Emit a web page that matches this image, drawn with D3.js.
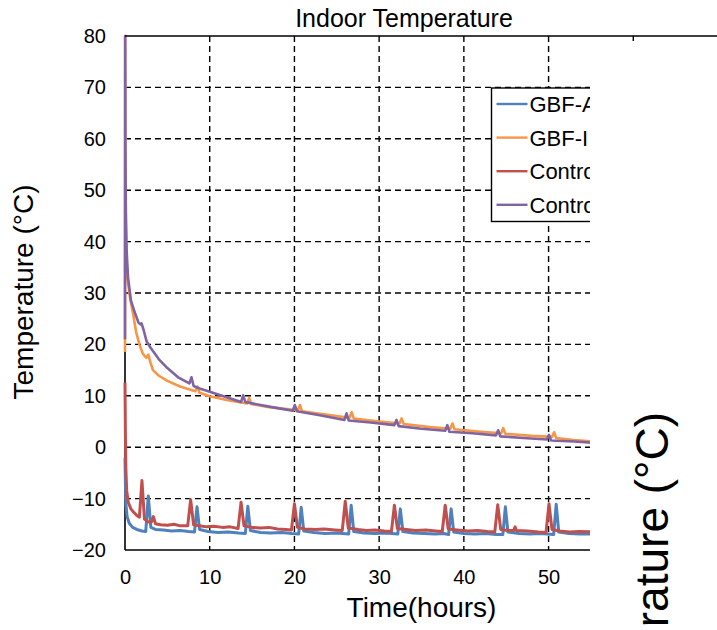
<!DOCTYPE html>
<html>
<head>
<meta charset="utf-8">
<script src="https://cdn.jsdelivr.net/npm/d3@7"></script>
<style>
  body { margin: 0; background: #fff; }
  svg { display: block; font-family: "Liberation Sans", Arial, sans-serif; }
</style>
</head>
<body>
<svg id="chart" width="717" height="630"></svg>
<script>
// series: [hours, degC]
const seriesNames = ["GBF-A", "GBF-I", "Control-A", "Control-I"];
const seriesColors = ["#4F81BD", "#F79646", "#C0504D", "#8064A2"];

const gbfA = [[0,-2],[0.05,-7],[0.1,-11],[0.25,-13.5],[0.5,-14.8],[0.9,-15.6],[1.4,-16.0],[2.0,-16.3],[2.45,-16.4],[2.75,-9.5],[3.05,-15.6],[3.6,-16],[4.5,-16.1],[5.5,-16.3],[6.5,-16.2],[7.5,-16.4],[8.2,-16.5],[8.5,-11.6],[8.8,-16],[9.8,-16.4],[11,-16.6],[12.2,-16.5],[13.4,-16.7],[14.2,-16.8],[14.5,-11.5],[14.8,-16.2],[16,-16.6],[17.2,-16.7],[18.5,-16.6],[19.7,-16.8],[20.5,-16.9],[20.8,-11.7],[21.1,-16.3],[22.3,-16.6],[23.6,-16.8],[25,-16.7],[26.4,-16.9],[26.7,-11.3],[27,-16.4],[28.2,-16.7],[29.5,-16.8],[30.8,-16.7],[32.2,-16.9],[32.5,-12],[32.8,-16.4],[34,-16.7],[35.3,-16.8],[36.6,-16.9],[37.6,-16.8],[38.2,-17],[38.5,-12],[38.8,-16.5],[40,-16.8],[41.3,-16.9],[42.6,-16.8],[43.8,-17],[44.6,-17],[44.9,-11.6],[45.2,-16.5],[46.5,-16.8],[47.8,-16.9],[49,-16.8],[50.6,-17],[50.9,-11.1],[51.2,-16.5],[52.4,-16.8],[53.7,-16.9],[56,-16.9]];

const gbfI = [[0,18.5],[0.02,80],[0.05,50],[0.1,40],[0.2,35],[0.36,32],[0.6,29],[0.95,26],[1.3,22.5],[1.7,20],[2.1,18.2],[2.5,17.4],[2.75,18],[3.0,16.5],[3.3,15],[4,13.9],[5,12.9],[6.5,11.8],[8.3,10.9],[8.55,11.8],[8.8,10.6],[10,9.9],[12,9.2],[14.4,8.5],[14.65,9.6],[14.9,8.4],[17,7.8],[20.4,7.2],[20.65,8.2],[20.9,7.0],[23,6.5],[26.5,5.7],[26.75,6.8],[27,5.6],[30,5.0],[32.4,4.6],[32.65,5.6],[32.9,4.5],[36,3.9],[38.4,3.6],[38.65,4.6],[38.9,3.5],[42,3.0],[44.4,2.7],[44.65,3.7],[44.9,2.6],[48,2.2],[50.4,2.0],[50.65,2.9],[50.9,1.8],[53,1.4],[56,1.0]];

const controlA = [[0,12.6],[0.05,2],[0.1,-4],[0.2,-8.5],[0.4,-10.8],[0.7,-12],[1,-12.6],[1.4,-13.3],[1.7,-13.6],[2.0,-6.5],[2.3,-14],[2.7,-14.5],[3.1,-14.6],[3.35,-13.5],[3.6,-14.9],[4.2,-15.1],[5,-15.2],[5.8,-15.0],[6.5,-15.3],[7.4,-15.3],[7.75,-10.2],[8.1,-15.1],[8.8,-15.3],[9.6,-15.5],[10.5,-15.4],[11.5,-15.6],[12.4,-15.5],[13.35,-15.8],[13.7,-10.7],[14.05,-15.3],[15,-15.6],[16,-15.7],[17,-15.6],[18,-15.9],[19,-16.0],[19.65,-16.1],[20.0,-11],[20.35,-15.6],[21.2,-15.9],[22.5,-16.0],[23.5,-15.9],[24.8,-16.1],[25.65,-16.2],[26.0,-10.5],[26.35,-15.7],[27.5,-16.0],[28.5,-16.2],[29.5,-16.1],[30.6,-16.3],[31.45,-16.4],[31.8,-11.3],[32.15,-15.8],[33.2,-16.0],[34.3,-16.2],[35.5,-16.1],[36.7,-16.3],[37.45,-16.4],[37.8,-11.3],[38.15,-15.9],[39.2,-16.1],[40.5,-16.3],[41.6,-16.2],[42.8,-16.4],[43.65,-16.5],[44.0,-11.2],[44.35,-16.0],[45.2,-16.2],[45.9,-16.2],[46.05,-15.5],[46.2,-16.2],[47.5,-16.3],[48.8,-16.5],[49.7,-16.6],[50.05,-11],[50.4,-16.0],[51.3,-16.3],[52.5,-16.5],[53.6,-16.4],[56,-16.5]];

const controlI = [[0,21],[0.02,80],[0.05,58],[0.1,46],[0.2,38],[0.36,33],[0.7,28.5],[1.2,26],[1.6,24.2],[1.85,23.9],[1.95,24.1],[2.2,22.8],[2.55,20.6],[3,19.4],[4,17.1],[5,15.4],[6.27,13.6],[7.6,12.4],[7.85,13.6],[8.1,11.9],[9,11.3],[10,10.8],[12,9.7],[13.7,8.8],[13.95,10.1],[14.2,8.8],[16,8.2],[18,7.6],[19.8,7.1],[20.05,8.2],[20.3,7.0],[23,6.2],[25.9,5.3],[26.15,6.6],[26.4,5.2],[29,4.8],[31.8,4.3],[32.05,5.3],[32.3,4.1],[35,3.6],[37.8,3.2],[38.05,4.3],[38.3,3.0],[41,2.7],[43.8,2.3],[44.05,3.3],[44.3,2.1],[47,1.8],[49.8,1.5],[50.05,2.4],[50.3,1.3],[53,1.1],[56,0.8]];

const seriesData = [gbfA, gbfI, controlA, controlI];
const seriesWidths = [3, 2.6, 3, 2.6];
const xTicks = [0, 10, 20, 30, 40, 50];
const xGrid = [10, 20, 30, 40, 50, 60];
const yTicks = [-20, -10, 0, 10, 20, 30, 40, 50, 60, 70, 80];
const yGrid = [-10, 0, 10, 20, 30, 40, 50, 60, 70];

const svg = d3.select("#chart");

const x = d3.scaleLinear().domain([0, 70]).range([125, 718]);
const y = d3.scaleLinear().domain([-20, 80]).range([550, 36]);

// grid
svg.append("g").selectAll("line")
    .data(yGrid)
    .enter().append("line")
    .attr("x1", x(0)).attr("x2", x(70))
    .attr("y1", d => y(d)).attr("y2", d => y(d))
    .attr("stroke", "#000").attr("stroke-width", 1.4)
    .attr("stroke-dasharray", "6,4");
svg.append("g").selectAll("line")
    .data(xGrid)
    .enter().append("line")
    .attr("x1", d => x(d)).attr("x2", d => x(d))
    .attr("y1", y(80)).attr("y2", y(-20))
    .attr("stroke", "#000").attr("stroke-width", 1.4)
    .attr("stroke-dasharray", "6,4");

// axis lines
svg.append("line")
    .attr("x1", x(0)).attr("x2", x(70)).attr("y1", y(-20)).attr("y2", y(-20))
    .attr("stroke", "#000").attr("stroke-width", 1.6);
svg.append("line")
    .attr("x1", x(0)).attr("x2", x(0)).attr("y1", y(80)).attr("y2", y(-20))
    .attr("stroke", "#000").attr("stroke-width", 1.6);

// lines
const line = d3.line().x(d => x(d[0])).y(d => y(d[1]));
svg.append("g").selectAll("path")
    .data(seriesData)
    .enter().append("path")
    .attr("d", line)
    .attr("fill", "none")
    .attr("stroke", (d, i) => seriesColors[i])
    .attr("stroke-width", (d, i) => seriesWidths[i])
    .attr("stroke-linejoin", "round");

// tick labels
const yAxis = svg.append("g")
    .attr("transform", "translate(" + x(0) + ",0)")
    .call(d3.axisLeft(y).tickValues(yTicks).tickSize(0).tickPadding(19));
yAxis.select(".domain").remove();
yAxis.selectAll("text").attr("font-size", "20px").attr("fill", "#000")
    .attr("font-family", "Liberation Sans, Arial, sans-serif");

const xAxis = svg.append("g")
    .attr("transform", "translate(0," + y(-20) + ")")
    .call(d3.axisBottom(x).tickValues(xTicks).tickSize(0).tickPadding(20));
xAxis.select(".domain").remove();
xAxis.selectAll("text").attr("font-size", "20px").attr("fill", "#000")
    .attr("font-family", "Liberation Sans, Arial, sans-serif");

// legend
const legend = svg.append("g").attr("transform", "translate(491.5,88)");
legend.append("rect")
    .attr("width", 150).attr("height", 133.5)
    .attr("fill", "#fff").attr("stroke", "#000").attr("stroke-width", 1.4);
const item = legend.selectAll(".item")
    .data(seriesNames)
    .enter().append("g")
    .attr("transform", (d, i) => "translate(0," + (16 + i * 33.6) + ")");
item.append("line")
    .attr("x1", 5).attr("x2", 36)
    .attr("stroke", (d, i) => seriesColors[i]).attr("stroke-width", 2.4);
item.append("text")
    .attr("x", 38).attr("dy", "0.36em")
    .attr("font-size", "22px")
    .text(d => d);

// white block pasted over the right side, with part of another axis title
svg.append("rect")
    .attr("x", 590).attr("y", 41).attr("width", 127).attr("height", 589)
    .attr("fill", "#fff");
svg.append("line")
    .attr("x1", x(0)).attr("x2", 717).attr("y1", y(80)).attr("y2", y(80))
    .attr("stroke", "#000").attr("stroke-width", 1.6);

svg.append("text")
    .attr("transform", "translate(668,412) rotate(-90)")
    .attr("text-anchor", "end")
    .attr("font-size", "46px")
    .text("rature (°C)");

// titles
svg.append("text")
    .attr("x", 404).attr("y", 27)
    .attr("text-anchor", "middle")
    .attr("font-size", "25px")
    .text("Indoor Temperature");
svg.append("text")
    .attr("x", 421.5).attr("y", 617)
    .attr("text-anchor", "middle")
    .attr("font-size", "28px")
    .text("Time(hours)");
svg.append("text")
    .attr("transform", "translate(33,292) rotate(-90)")
    .attr("text-anchor", "middle")
    .attr("font-size", "28px")
    .text("Temperature (°C)");
</script>
</body>
</html>
